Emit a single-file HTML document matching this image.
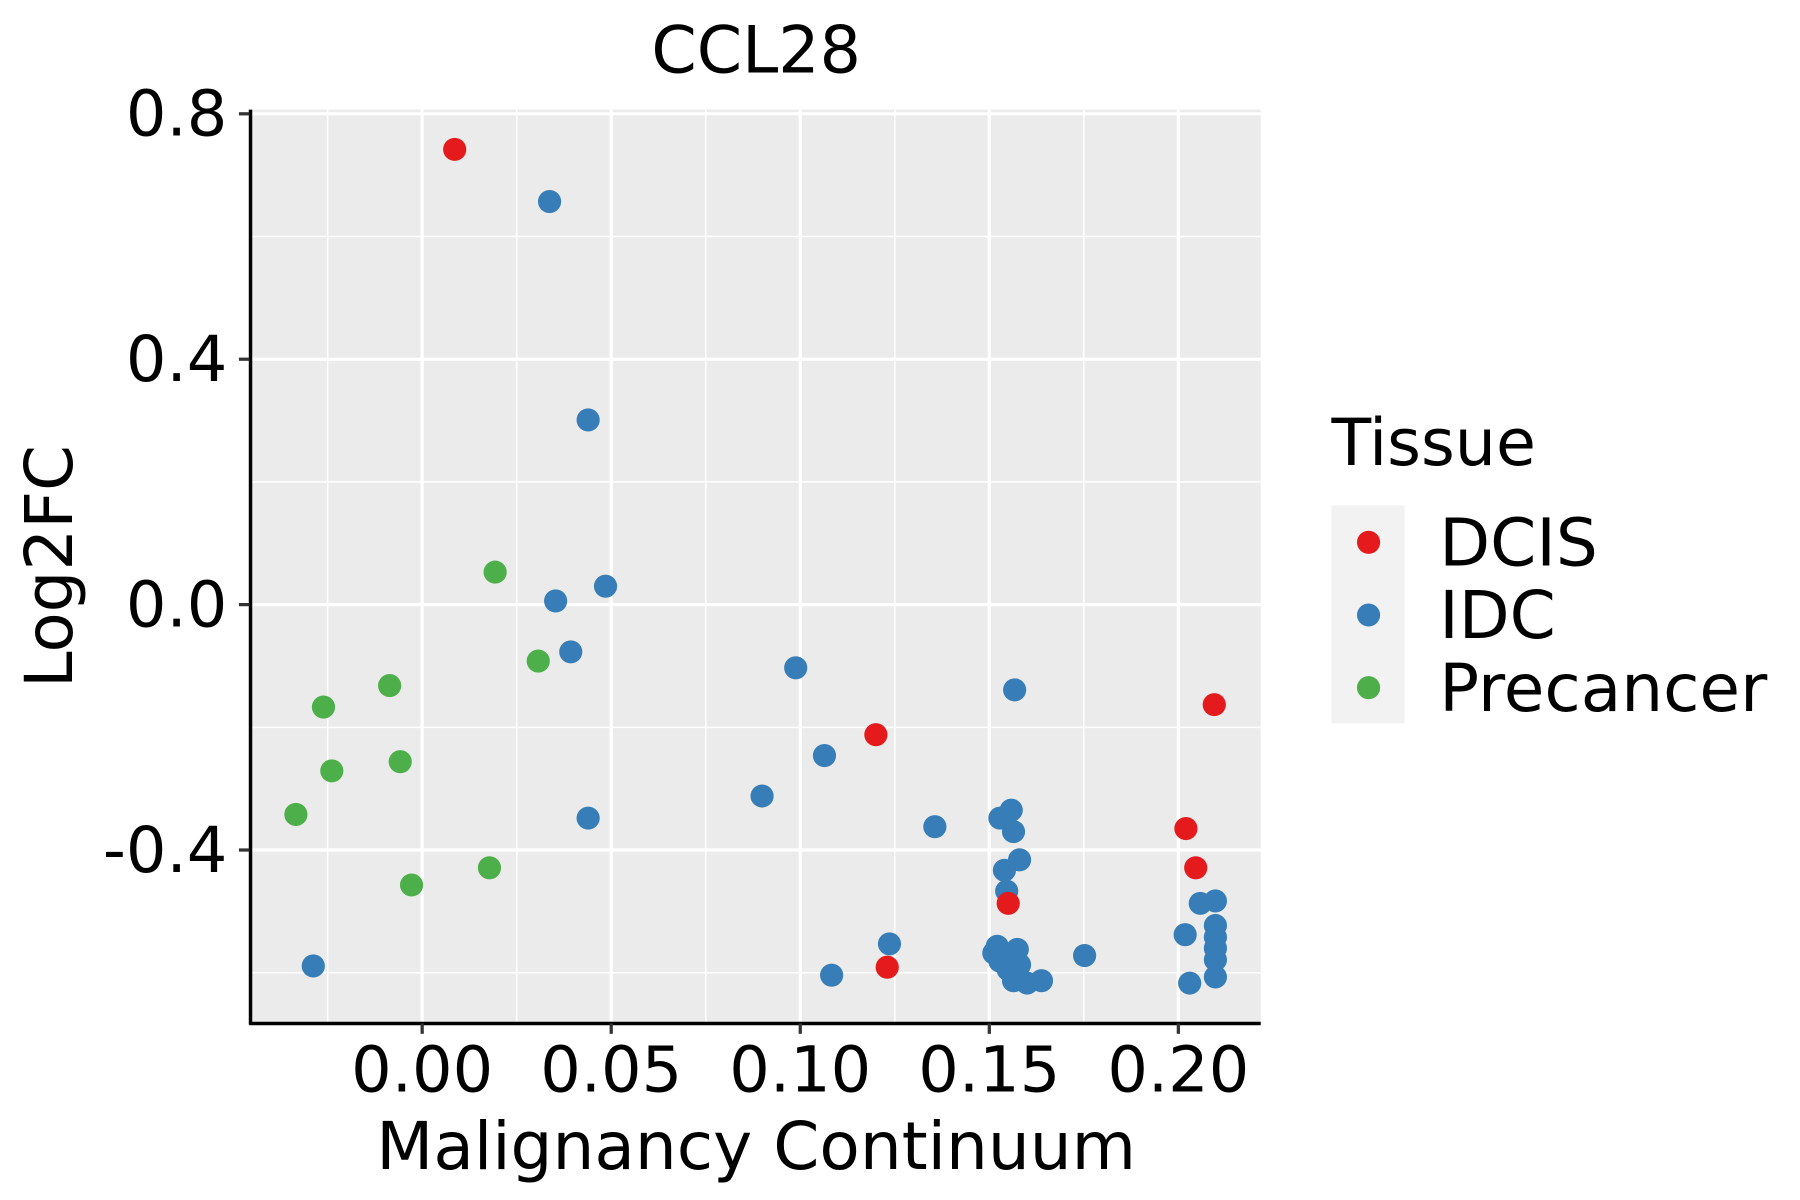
<!DOCTYPE html>
<html><head><meta charset="utf-8"><style>html,body{margin:0;padding:0;background:#fff}svg{display:block}text{font-family:"DejaVu Sans","Liberation Sans",sans-serif}</style></head>
<body>
<svg id="chart" width="1800" height="1200" viewBox="0 0 1552 1040" preserveAspectRatio="none" xmlns="http://www.w3.org/2000/svg">
<rect x="217" y="95" width="870" height="792" fill="#ebebeb"/>
<g id="grid"></g>
<g id="points"></g>
<line x1="216" y1="95" x2="216" y2="888" stroke="#000" stroke-width="3"/>
<line x1="215" y1="887" x2="1087" y2="887" stroke="#000" stroke-width="3"/>
<g id="ticks"></g>
<text x="652" y="63" font-size="56" text-anchor="middle">CCL28</text>
<text x="652" y="1013" font-size="57" text-anchor="middle">Malignancy Continuum</text>
<text transform="translate(62,491) rotate(-90)" font-size="57" text-anchor="middle">Log2FC</text>
<g>
<text x="1148" y="403" font-size="56">Tissue</text>
<rect x="1148" y="438" width="63" height="189" fill="#f2f2f2"/>
<circle cx="1180" cy="470" r="10" fill="#e41a1c"/>
<circle cx="1180" cy="533" r="10" fill="#377eb8"/>
<circle cx="1180" cy="596" r="10" fill="#4daf4a"/>
<text x="1241" y="490" font-size="57">DCIS</text>
<text x="1241" y="553" font-size="57">IDC</text>
<text x="1241" y="616" font-size="57">Precancer</text>
</g>
</svg>
<script>
const xTicks=[0,0.05,0.10,0.15,0.20];
const xTickLabels=["0.00","0.05","0.10","0.15","0.20"];
const yTicks=[0.8,0.4,0.0,-0.4];
const yTickLabels=["0.8","0.4","0.0","-0.4"];
const dcisX=[0.0086,0.12,0.155,0.123,0.2095,0.202,0.2046];
const dcisY=[0.742,-0.212,-0.487,-0.591,-0.163,-0.365,-0.429];
const idcX=[0.0337,0.0439,0.0353,0.0485,0.0393,0.0439,-0.0288,0.0988,0.0899,0.1064,0.1083,0.1236,0.1356,0.1567,0.1558,0.1528,0.1564,0.158,0.154,0.1546,0.1521,0.1512,0.1528,0.155,0.1574,0.158,0.1564,0.16,0.1638,0.1752,0.2018,0.203,0.2058,0.2098,0.2098,0.2098,0.2098,0.2098,0.2098];
const idcY=[0.657,0.301,0.006,0.030,-0.077,-0.348,-0.589,-0.103,-0.312,-0.246,-0.604,-0.553,-0.362,-0.139,-0.335,-0.348,-0.370,-0.416,-0.433,-0.467,-0.557,-0.568,-0.581,-0.595,-0.562,-0.587,-0.613,-0.617,-0.613,-0.572,-0.538,-0.617,-0.487,-0.483,-0.523,-0.542,-0.560,-0.579,-0.607];
const preX=[0.0193,0.0307,-0.0086,-0.0261,-0.0058,-0.0239,-0.0334,-0.0028,0.0178];
const preY=[0.053,-0.092,-0.132,-0.167,-0.256,-0.271,-0.342,-0.457,-0.429];
const NS="http://www.w3.org/2000/svg";
const sx=v=>364+3260*v;
const sy=v=>524-531.7*v;
function mk(tag,attrs,parent){const e=document.createElementNS(NS,tag);for(const k in attrs)e.setAttribute(k,attrs[k]);parent.appendChild(e);return e;}
const grid=document.getElementById('grid'),ticks=document.getElementById('ticks'),pts=document.getElementById('points');
for(let i=0;i<xTicks.length-1;i++){const m=(xTicks[i]+xTicks[i+1])/2;const l=mk('line',{x1:sx(m),x2:sx(m),y1:95,y2:887,stroke:'#fff','stroke-width':1.3},grid);

}
{const m=xTicks[0]-0.025;const l=mk('line',{x1:sx(m),x2:sx(m),y1:95,y2:887,stroke:'#fff','stroke-width':1.3},grid);

}
for(let i=0;i<yTicks.length-1;i++){const m=(yTicks[i]+yTicks[i+1])/2;const l=mk('line',{x1:217,x2:1087,y1:sy(m),y2:sy(m),stroke:'#fff','stroke-width':1.3},grid);

}
{const m=yTicks[yTicks.length-1]-0.2;const l=mk('line',{x1:217,x2:1087,y1:sy(m),y2:sy(m),stroke:'#fff','stroke-width':1.3},grid);

}
xTicks.forEach((v,i)=>{const l=mk('line',{x1:sx(v),x2:sx(v),y1:95,y2:887,stroke:'#fff','stroke-width':2.8},grid);


const t=mk('line',{x1:sx(v),x2:sx(v),y1:887,y2:896,stroke:'#333','stroke-width':2.8},ticks);


const tx=mk('text',{x:sx(v),y:946,'font-size':55,'text-anchor':'middle'},ticks);tx.textContent=xTickLabels[i];

});
yTicks.forEach((v,i)=>{const l=mk('line',{x1:217,x2:1087,y1:sy(v),y2:sy(v),stroke:'#fff','stroke-width':2.8},grid);


const t=mk('line',{x1:206,x2:215,y1:sy(v),y2:sy(v),stroke:'#333','stroke-width':2.8},ticks);


const tx=mk('text',{x:196,y:sy(v)+19,'font-size':55,'text-anchor':'end'},ticks);tx.textContent=yTickLabels[i];

});
function series(xs,ys,color,name){xs.forEach((x,i)=>{const c=mk('circle',{cx:sx(x),cy:sy(ys[i]),r:10,fill:color},pts);

});}
series(preX,preY,'#4daf4a','precancer-point');
series(idcX,idcY,'#377eb8','idc-point');
series(dcisX,dcisY,'#e41a1c','dcis-point');
</script>
</body></html>
